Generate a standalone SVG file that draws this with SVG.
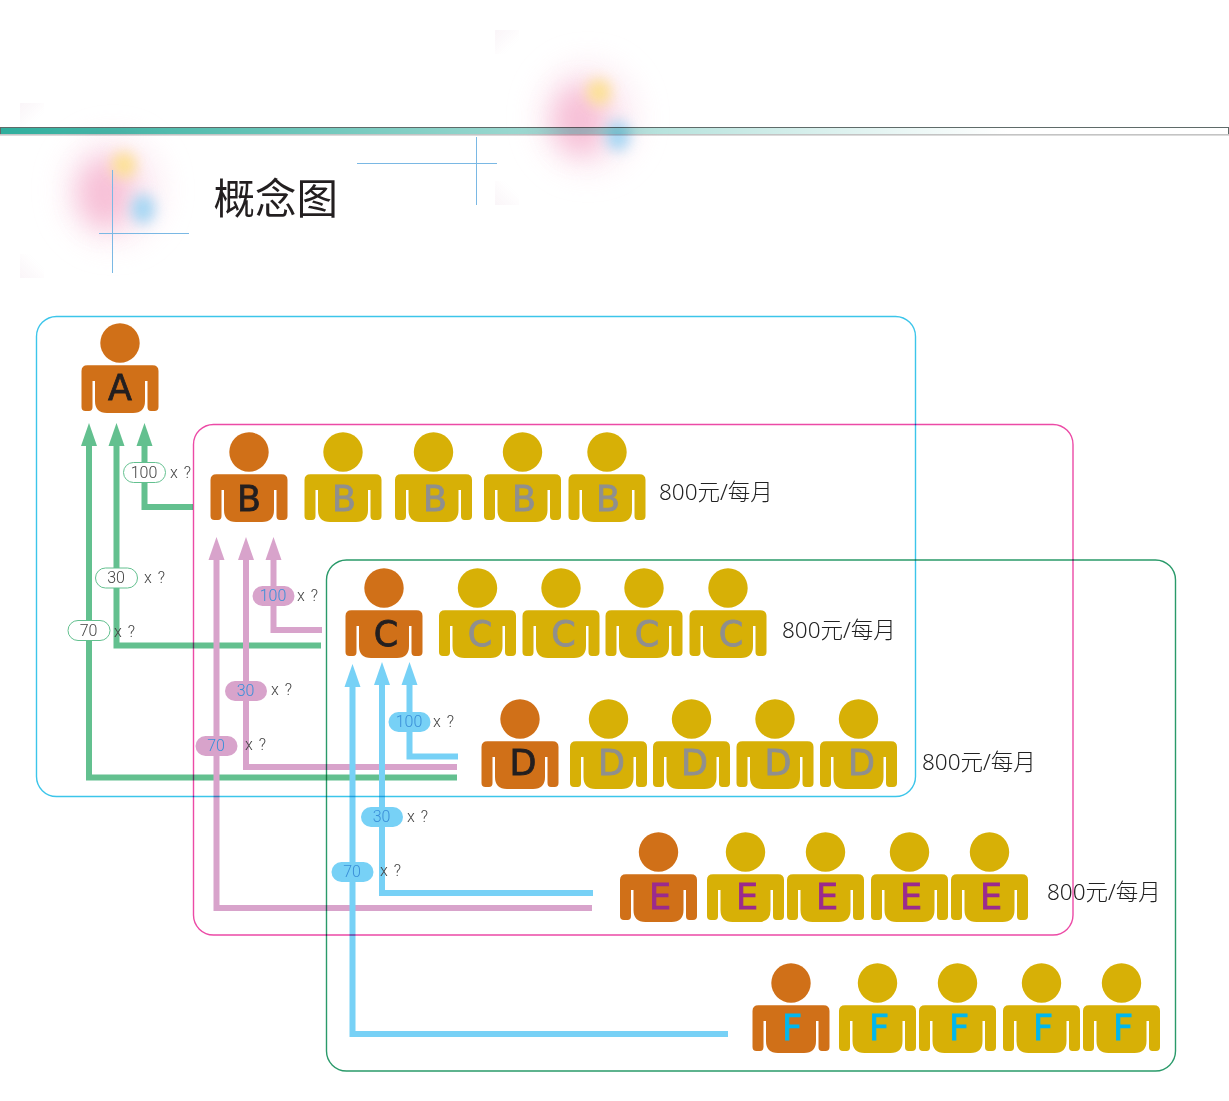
<svg xmlns="http://www.w3.org/2000/svg" width="1229" height="1101" viewBox="0 0 1229 1101">
<style>
text{font-family:"Liberation Sans","Noto Sans CJK SC",sans-serif}
.frame{fill:none;stroke-width:1.4;mix-blend-mode:multiply}
.o{fill:#d07018}.y{fill:#d7b006}
text.l{font-size:35px;text-anchor:middle;font-family:"DejaVu Sans","Liberation Sans",sans-serif;stroke-width:.8}
.dk{fill:#231f20;stroke:#231f20}.gr{fill:#8f8f8f;stroke:#8f8f8f}.pu{fill:#9b2a8e;stroke:#9b2a8e}.bl{fill:#00b7ee;stroke:#00b7ee}
.c{fill:none;stroke-width:6}
.cg{stroke:#63c08f}.cp{stroke:#d8a3cb}.cb{stroke:#77d1f6}
.ag{fill:#63c08f}.ap{fill:#d8a3cb}.ab{fill:#77d1f6}
text.p{font-size:16px;text-anchor:middle;font-family:Roboto,"Liberation Sans",sans-serif;font-weight:300}
text.x{font-size:16px;fill:#444;font-family:Roboto,"Liberation Sans",sans-serif;font-weight:300;letter-spacing:1px}
text.m{font-size:22.5px;fill:#222;font-family:"Noto Sans","Noto Sans CJK SC",sans-serif;font-weight:300}
.cross{stroke:#7ab8e4;stroke-width:1;fill:none}
.gl{mix-blend-mode:multiply}
</style>
<defs>
<linearGradient id="bar" x1="0" x2="1" y1="0" y2="0"><stop offset="0" stop-color="#2fae9d"/><stop offset=".82" stop-color="#ffffff"/></linearGradient>
<filter id="b0" x="-100%" y="-100%" width="300%" height="300%"><feGaussianBlur stdDeviation="16"/></filter>
<filter id="b1" x="-100%" y="-100%" width="300%" height="300%"><feGaussianBlur stdDeviation="13"/></filter>
<filter id="b2" x="-100%" y="-100%" width="300%" height="300%"><feGaussianBlur stdDeviation="7"/></filter>
<linearGradient id="fa" x1="0" y1="0" x2="1" y2="1"><stop offset="0" stop-color="#faf5f8"/><stop offset=".7" stop-color="#faf5f8" stop-opacity="0"/></linearGradient>
<linearGradient id="fb" x1="0" y1="1" x2="1" y2="0"><stop offset="0" stop-color="#faf5f8"/><stop offset=".7" stop-color="#faf5f8" stop-opacity="0"/></linearGradient>
<g id="glow">
<rect x="20" y="103" width="24" height="24" fill="url(#fa)"/>
<rect x="20" y="254" width="24" height="24" fill="url(#fb)"/>
<ellipse cx="113" cy="190" rx="48" ry="52" fill="#fbe3ee" opacity=".75" filter="url(#b0)"/>
<ellipse cx="105" cy="193" rx="26" ry="34" fill="#f6b6d0" opacity=".8" filter="url(#b1)"/>
<ellipse cx="124" cy="165" rx="12" ry="13" fill="#fde28e" opacity=".95" filter="url(#b2)"/>
<ellipse cx="143" cy="209" rx="12" ry="15" fill="#a0d6f4" opacity=".95" filter="url(#b2)"/>
</g>
<g id="man">
<circle cx="0" cy="0" r="19.7"/>
<path d="M-38.5,28Q-38.5,22.3-32.5,22.3H32.5Q38.5,22.3 38.5,28V64Q38.5,68 34.5,68H31Q27.5,68 27.5,64V38H25V58Q25,70 13,70H-13Q-25,70-25,58V38H-27.5V64Q-27.5,68-31,68H-34.5Q-38.5,68-38.5,64Z"/>
</g>
</defs>

<g id="header">
<rect x="0.5" y="127.5" width="1228" height="7" fill="url(#bar)" stroke="#5f6b69" stroke-width="1"/>
<rect x="0" y="134" width="1229" height="1.6" fill="#c4c4c4"/>
<use class="gl" href="#glow"/>
<use class="gl" href="#glow" x="475" y="-73"/>
<path class="cross" d="M112.5,170V273M99,233.5H189M476.5,137V205M357,163.5H497"/>
<text x="213.500" y="213.500" font-size="41.500" fill="#231f20" style="font-family:'Noto Sans CJK SC',sans-serif">概念图</text>
</g>

<g id="connectors">
<path class="c cg" d="M144.5,445V507H193"/><path class="ag" d="M144.5,423l8,23h-16z"/>
<path class="c cg" d="M116.5,445V645.5H321"/><path class="ag" d="M116.5,423l8,23h-16z"/>
<path class="c cg" d="M89,445V777.5H457"/><path class="ag" d="M89,423l8,23h-16z"/>
<path class="c cp" d="M273.5,559V630H322"/><path class="ap" d="M273.5,537l8,23h-16z"/>
<path class="c cp" d="M246,559V767H457"/><path class="ap" d="M246,537l8,23h-16z"/>
<path class="c cp" d="M216.5,559V908H592"/><path class="ap" d="M216.5,537l8,23h-16z"/>
<path class="c cb" d="M409.5,684V756.5H458"/><path class="ab" d="M409.5,662l8,23h-16z"/>
<path class="c cb" d="M382,684V893H593"/><path class="ab" d="M382,662l8,23h-16z"/>
<path class="c cb" d="M352.5,686V1034H728"/><path class="ab" d="M352.5,664l8,23h-16z"/>
</g>

<g id="frames">
<rect class="frame" x="36.5" y="316.5" width="879" height="480" rx="20" stroke="#3cc5ea"/>
<rect class="frame" x="193.5" y="424.5" width="879.500" height="510.500" rx="20" stroke="#ec4aa6"/>
<rect class="frame" x="326.5" y="560" width="849" height="511" rx="20" stroke="#2a9a6a"/>
</g>

<g id="pills">
<g fill="#fff" stroke="#63c08f" stroke-width="1">
<rect x="123.5" y="462.5" width="42" height="20" rx="10"/>
<rect x="95.5" y="568" width="42" height="20" rx="10"/>
<rect x="68" y="620.5" width="42" height="20" rx="10"/>
</g>
<g fill="#d8a3cb">
<rect x="252.5" y="586" width="42" height="20" rx="10"/>
<rect x="225" y="681" width="42" height="20" rx="10"/>
<rect x="195.5" y="736" width="42" height="20" rx="10"/>
</g>
<g fill="#77d1f6">
<rect x="388.5" y="712" width="42" height="20" rx="10"/>
<rect x="361" y="807" width="42" height="20" rx="10"/>
<rect x="331.5" y="862" width="42" height="20" rx="10"/>
</g>
<g fill="#444">
<text class="p" x="144" y="477.5">100</text>
<text class="p" x="116" y="583">30</text>
<text class="p" x="88.500" y="635.5">70</text>
</g>
<g fill="#3a8fd8">
<text class="p" x="273" y="601">100</text>
<text class="p" x="245.500" y="696">30</text>
<text class="p" x="216" y="751">70</text>
<text class="p" x="409" y="727">100</text>
<text class="p" x="381.500" y="822">30</text>
<text class="p" x="352" y="877">70</text>
</g>
<text class="x" x="170" y="477.500">x ?</text>
<text class="x" x="144" y="582.500">x ?</text>
<text class="x" x="114" y="636.500">x ?</text>
<text class="x" x="297" y="600.500">x ?</text>
<text class="x" x="271" y="694.500">x ?</text>
<text class="x" x="245" y="749.500">x ?</text>
<text class="x" x="433" y="726.500">x ?</text>
<text class="x" x="407" y="821.500">x ?</text>
<text class="x" x="380" y="875.500">x ?</text>
</g>

<g id="A"><use href="#man" class="o" x="120" y="343"/><text class="l dk" x="120" y="400">A</text></g>

<g id="B">
<use href="#man" class="o" x="249" y="452"/><text class="l dk" x="249" y="511">B</text>
<use href="#man" class="y" x="343" y="452"/><text class="l gr" x="344" y="511">B</text>
<use href="#man" class="y" x="433.5" y="452"/><text class="l gr" x="435" y="511">B</text>
<use href="#man" class="y" x="522.5" y="452"/><text class="l gr" x="524" y="511">B</text>
<use href="#man" class="y" x="607" y="452"/><text class="l gr" x="608" y="511">B</text>
<text class="m" x="659" y="500">800元/每月</text>
</g>
<g id="C">
<use href="#man" class="o" x="384" y="588"/><text class="l dk" x="386" y="646">C</text>
<use href="#man" class="y" x="477.5" y="588"/><text class="l gr" x="480" y="646">C</text>
<use href="#man" class="y" x="561" y="588"/><text class="l gr" x="563.500" y="646">C</text>
<use href="#man" class="y" x="644" y="588"/><text class="l gr" x="647" y="646">C</text>
<use href="#man" class="y" x="728" y="588"/><text class="l gr" x="731" y="646">C</text>
<text class="m" x="782" y="638">800元/每月</text>
</g>
<g id="D">
<use href="#man" class="o" x="520" y="719"/><text class="l dk" x="523" y="775">D</text>
<use href="#man" class="y" x="608.5" y="719"/><text class="l gr" x="611.500" y="775">D</text>
<use href="#man" class="y" x="691.5" y="719"/><text class="l gr" x="694.500" y="775">D</text>
<use href="#man" class="y" x="775" y="719"/><text class="l gr" x="778" y="775">D</text>
<use href="#man" class="y" x="858.5" y="719"/><text class="l gr" x="861.500" y="775">D</text>
<text class="m" x="922" y="770">800元/每月</text>
</g>
<g id="E">
<use href="#man" class="o" x="658.5" y="852"/><text class="l pu" x="660" y="909">E</text>
<use href="#man" class="y" x="745.5" y="852"/><text class="l pu" x="747" y="909">E</text>
<use href="#man" class="y" x="825.5" y="852"/><text class="l pu" x="827" y="909">E</text>
<use href="#man" class="y" x="909.5" y="852"/><text class="l pu" x="911" y="909">E</text>
<use href="#man" class="y" x="989.5" y="852"/><text class="l pu" x="991" y="909">E</text>
<text class="m" x="1047" y="900">800元/每月</text>
</g>
<g id="F">
<use href="#man" class="o" x="791" y="983"/><text class="l bl" x="792" y="1040">F</text>
<use href="#man" class="y" x="877.5" y="983"/><text class="l bl" x="879" y="1040">F</text>
<use href="#man" class="y" x="957.5" y="983"/><text class="l bl" x="959" y="1040">F</text>
<use href="#man" class="y" x="1041.5" y="983"/><text class="l bl" x="1043" y="1040">F</text>
<use href="#man" class="y" x="1121.5" y="983"/><text class="l bl" x="1123" y="1040">F</text>
</g>
</svg>
